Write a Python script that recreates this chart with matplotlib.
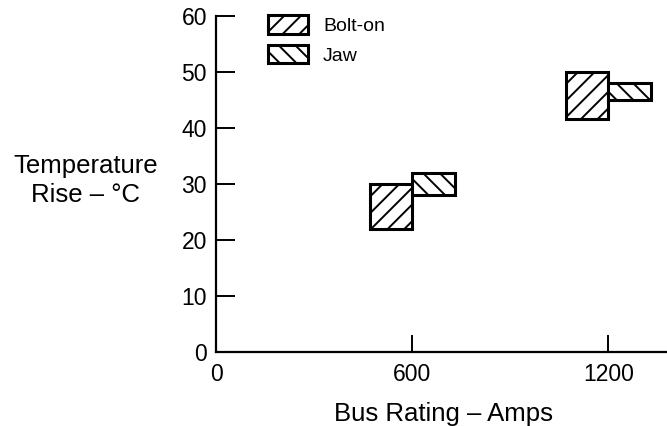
import matplotlib.pyplot as plt
from matplotlib.patches import Patch

# bus ratings (amps) and temperature rise ranges (deg C)
ratings = [600, 1200]
bolt_lo = [22, 41.5]
bolt_hi = [30, 50]
jaw_lo = [28, 45]
jaw_hi = [32, 48]
series = ['Bolt-on', 'Jaw']
xticks = [0, 600, 1200]
yticks = [0, 10, 20, 30, 40, 50, 60]

plt.rcParams['font.family'] = ['Liberation Sans', 'DejaVu Sans']
plt.rcParams['hatch.linewidth'] = 1.4
plt.rcParams['hatch.color'] = 'black'

fig = plt.figure(figsize=(6.67, 4.26), dpi=100)
ax = fig.add_axes([0.324, 0.174, 0.676, 0.789])

w_bolt = 128
w_jaw = 130
ax.bar(ratings, [h - l for h, l in zip(bolt_hi, bolt_lo)], bottom=bolt_lo,
       width=-w_bolt, align='edge', facecolor='white', edgecolor='black',
       linewidth=2.2, hatch='//')
ax.bar(ratings, [h - l for h, l in zip(jaw_hi, jaw_lo)], bottom=jaw_lo,
       width=w_jaw, align='edge', facecolor='white', edgecolor='black',
       linewidth=2.2, hatch='\\\\')

ax.set_xlim(0, 1380)
ax.set_ylim(0, 60)
ax.set_xticks(xticks)
ax.set_yticks(yticks)
ax.spines['top'].set_visible(False)
ax.spines['right'].set_visible(False)
ax.spines['left'].set_linewidth(1.6)
ax.spines['bottom'].set_linewidth(1.6)
ax.tick_params(axis='y', direction='in', length=14, width=1.4, pad=6.5, labelsize=16.5)
ax.tick_params(axis='x', direction='in', length=12, width=1.4, pad=8, labelsize=16.5)

fig.text(0.665, 0.028, 'Bus Rating – Amps', ha='center', va='center', fontsize=18.5)
fig.text(0.128, 0.577, 'Temperature\nRise – °C', ha='center', va='center',
         fontsize=18.5, linespacing=1.25)

handles = [Patch(facecolor='white', edgecolor='black', linewidth=2.2, hatch='//'),
           Patch(facecolor='white', edgecolor='black', linewidth=2.2, hatch='\\\\')]
ax.legend(handles, series, loc='upper left', bbox_to_anchor=(0.097, 1.025),
          frameon=False, fontsize=14, handlelength=2.1, handleheight=1.1,
          handletextpad=0.75, labelspacing=0.5, borderaxespad=0)

fig.savefig('out.png', dpi=100)
